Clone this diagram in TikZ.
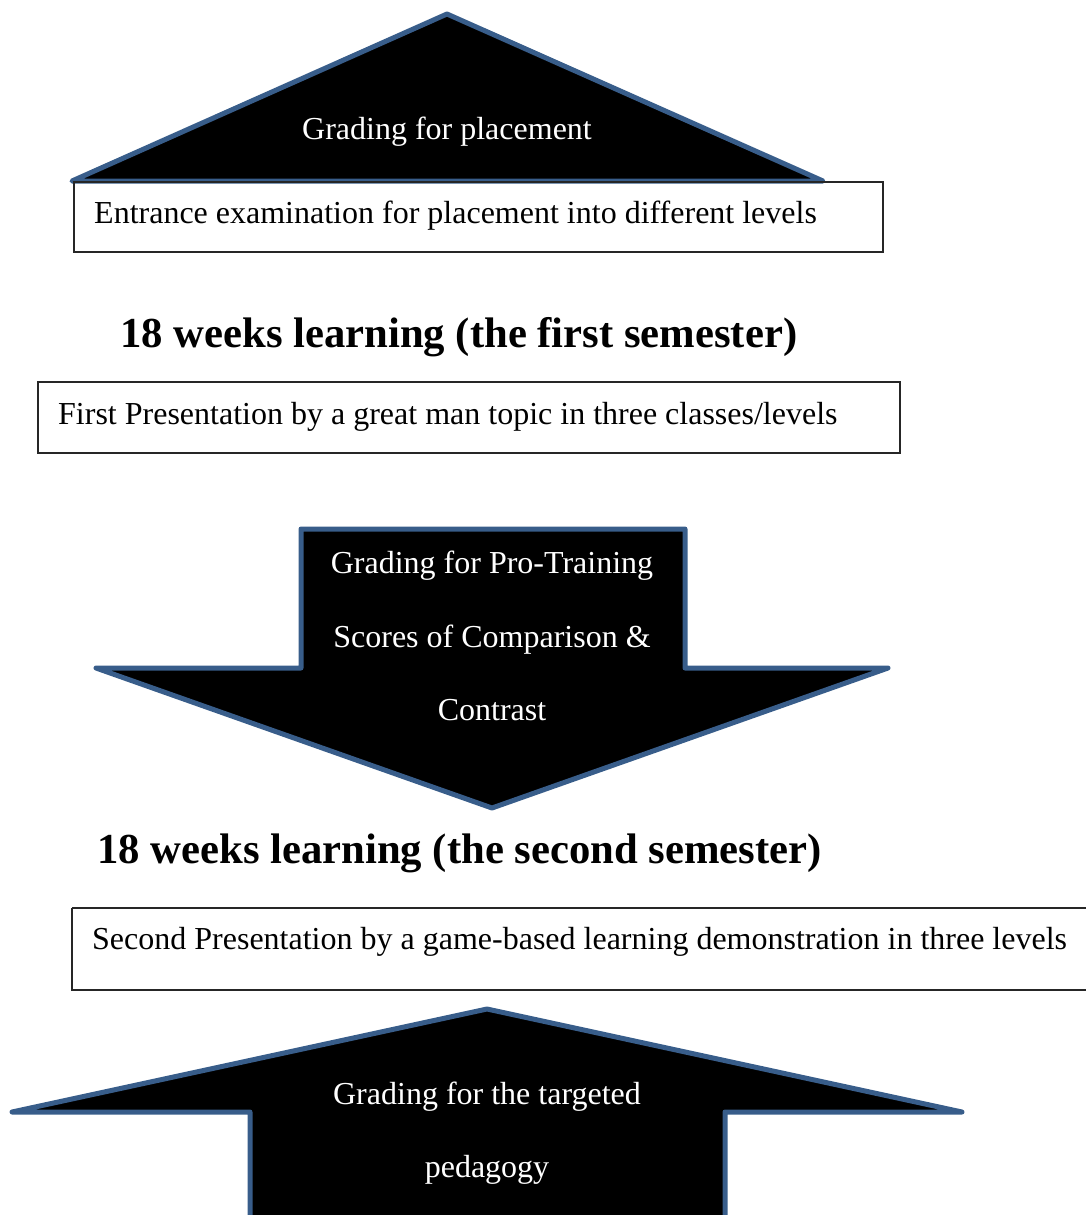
\documentclass[tikz,border=0pt]{standalone}
\usepackage{fontspec}
\setmainfont{Liberation Serif}
\definecolor{outl}{HTML}{385D8A}
\tikzset{
  shapeout/.style={draw=outl, line width=5pt, fill=black, line join=round},
  txtbox/.style={draw=black!85, line width=1.2pt},
  bodytxt/.style={font=\fontsize{32}{38}\selectfont, inner sep=0pt},
  wtxt/.style={bodytxt, text=white},
  headtxt/.style={font=\fontsize{42.7}{50}\bfseries\selectfont, inner sep=0pt}
}
\begin{document}
\begin{tikzpicture}[x=1pt,y=-1pt]
\useasboundingbox (0,0) rectangle (1085,1215);
% top triangle
\draw[shapeout] (447,14) -- (823,181) -- (72,181) -- cycle;
\node[wtxt, anchor=base] (t1) at (447,139) {Grading for placement};
% box 1
\draw[txtbox] (74,182) rectangle (883,252);
\node[bodytxt, anchor=base west] (b1) at (94,223) {Entrance examination for placement into different levels};
% heading 1
\node[headtxt, anchor=base west] (h1) at (120,347) {18 weeks learning (the first semester)};
% box 2
\draw[txtbox] (38,382) rectangle (900,453);
\node[bodytxt, anchor=base west] (b2) at (58,424) {First Presentation by a great man topic in three classes/levels};
% down arrow
\draw[shapeout] (301,529) -- (685,529) -- (685,668) -- (888,668) -- (492,808) -- (96,668) -- (301,668) -- cycle;
\node[wtxt, anchor=base] (a1) at (492,573) {Grading for Pro-Training};
\node[wtxt, anchor=base] (a2) at (492,647) {Scores of Comparison \&};
\node[wtxt, anchor=base] (a3) at (492,720) {Contrast};
% heading 2
\node[headtxt, anchor=base west] (h2) at (97,863) {18 weeks learning (the second semester)};
% box 3
\draw[txtbox] (72,908) -- (1090,908) (1090,990) -- (72,990) -- (72,908);
\node[bodytxt, anchor=base west] (b3) at (92,949) {Second Presentation by a game-based learning demonstration in three levels};
% up arrow
\draw[shapeout] (250,1225) -- (250,1112) -- (12,1112) -- (487,1009) -- (962,1112) -- (725,1112) -- (725,1225);
\node[wtxt, anchor=base] (u1) at (487,1104) {Grading for the targeted};
\node[wtxt, anchor=base] (u2) at (487,1177) {pedagogy};
\end{tikzpicture}
\end{document}
